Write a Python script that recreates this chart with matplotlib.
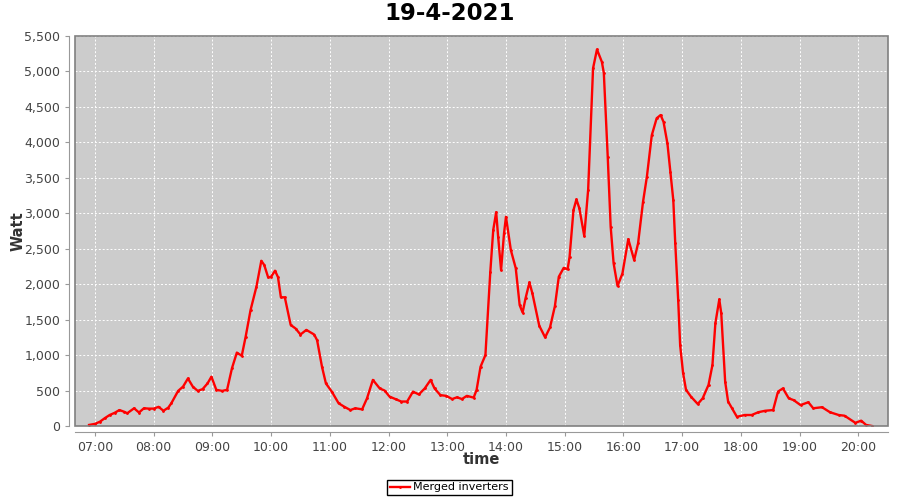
import matplotlib
matplotlib.use('Agg')
import matplotlib.pyplot as plt
import matplotlib.dates as mdates
from matplotlib.patches import Rectangle
import pandas as pd

# readings of the merged inverters (time of day, watt)
times = [
    '06:54', '07:00', '07:05', '07:10', '07:15', '07:20', '07:25', '07:30', '07:33', '07:40',
    '07:45', '07:50', '07:55', '08:00', '08:05', '08:10', '08:15', '08:18', '08:25', '08:30',
    '08:35', '08:40', '08:45', '08:50', '08:55', '08:59', '09:04', '09:10', '09:15', '09:20',
    '09:25', '09:30', '09:34', '09:39', '09:45', '09:50', '09:53', '09:57', '10:00', '10:04',
    '10:07', '10:10', '10:14', '10:20', '10:25', '10:30', '10:36', '10:44', '10:47', '10:52',
    '10:56', '11:02', '11:09', '11:15', '11:21', '11:26', '11:33', '11:38', '11:44', '11:51',
    '11:56', '12:01', '12:08', '12:13', '12:19', '12:25', '12:31', '12:37', '12:43', '12:47',
    '12:53', '12:59', '13:05', '13:10', '13:15', '13:20', '13:27', '13:30', '13:34', '13:39',
    '13:44', '13:47', '13:50', '13:52', '13:55', '13:58', '14:00', '14:05', '14:10', '14:14',
    '14:17', '14:20', '14:24', '14:27', '14:34', '14:40', '14:45', '14:50', '14:54', '14:59',
    '15:03', '15:05', '15:09', '15:12', '15:15', '15:20', '15:24', '15:29', '15:33', '15:38',
    '15:40', '15:44', '15:47', '15:50', '15:54', '15:59', '16:05', '16:11', '16:15', '16:20',
    '16:24', '16:29', '16:34', '16:38', '16:41', '16:45', '16:48', '16:51', '16:53', '16:56',
    '16:58', '17:01', '17:04', '17:09', '17:16', '17:21', '17:27', '17:31', '17:34', '17:38',
    '17:40', '17:44', '17:47', '17:51', '17:56', '18:04', '18:11', '18:18', '18:25', '18:33',
    '18:38', '18:43', '18:49', '18:54', '19:01', '19:09', '19:14', '19:23', '19:31', '19:40',
    '19:46', '19:57', '20:03', '20:08', '20:14',
]
watts = [
    15, 30, 60, 110, 155, 185, 225, 200, 180, 250,
    190, 250, 245, 245, 270, 215, 260, 320, 495, 555,
    670, 555, 495, 520, 600, 695, 510, 495, 510, 815,
    1035, 990, 1260, 1635, 1965, 2330, 2270, 2095, 2105, 2190,
    2100, 1815, 1815, 1425, 1375, 1290, 1355, 1290, 1210, 835,
    600, 485, 320, 270, 225, 250, 235, 390, 650, 530,
    500, 415, 375, 345, 345, 485, 445, 530, 650, 530,
    435, 425, 380, 405, 380, 425, 400, 510, 835, 1000,
    2175, 2765, 3015, 2670, 2200, 2715, 2950, 2480, 2225, 1705,
    1600, 1800, 2025, 1870, 1415, 1250, 1390, 1690, 2105, 2230,
    2210, 2385, 3045, 3195, 3070, 2680, 3335, 5045, 5310, 5135,
    4980, 3795, 2810, 2295, 1975, 2150, 2635, 2340, 2575, 3155,
    3515, 4100, 4340, 4385, 4290, 3985, 3585, 3185, 2575, 1775,
    1140, 745, 510, 415, 310, 390, 580, 860, 1450, 1785,
    1590, 625, 345, 250, 130, 155, 155, 195, 215, 225,
    485, 530, 390, 365, 295, 335, 250, 265, 195, 155,
    145, 45, 75, 15, 0,
]

day = '2021-04-19'
t = pd.to_datetime([f'{day} {hm}' for hm in times])

fig = plt.figure(figsize=(9, 5), dpi=100)
fig.patch.set_facecolor('white')
ax = fig.add_axes([75 / 900, 1 - 426 / 500, 813 / 900, 390 / 500])
ax.set_facecolor('#cccccc')

ax.plot(t, watts, color='#ff0000', linewidth=1.7, marker='.', markersize=2,
        label='Merged inverters')

ax.set_xlim(pd.Timestamp(f'{day} 06:39:36'), pd.Timestamp(f'{day} 20:30:24'))
ax.set_ylim(0, 5500)
ax.set_yticks(range(0, 5501, 500))
ax.yaxis.set_major_formatter(plt.FuncFormatter(lambda v, _: f'{v:,.0f}'))
ax.xaxis.set_major_locator(mdates.HourLocator(byhour=range(7, 21)))
ax.xaxis.set_major_formatter(mdates.DateFormatter('%H:%M'))

# white dashed gridlines
ax.grid(True, color='white', linestyle=(0, (2, 2)), linewidth=0.7)
ax.set_axisbelow(True)

# axis lines drawn a little outside the plot, plot border in grey
for side in ['top', 'right']:
    ax.spines[side].set_visible(False)
for side in ['left', 'bottom']:
    ax.spines[side].set_position(('outward', 4))
    ax.spines[side].set_color('#999999')
ax.add_patch(Rectangle((0, 0), 1, 1, transform=ax.transAxes, fill=False,
                       edgecolor='#808080', linewidth=1.2, zorder=5, clip_on=False))
ax.tick_params(colors='#999999', labelcolor='#444444', labelsize=9, length=3, width=0.8)

ax.set_xlabel('time', fontsize=10.5, fontweight='bold', color='#333333')
ax.set_ylabel('Watt', fontsize=10.5, fontweight='bold', color='#333333')
ax.xaxis.set_label_coords(0.5, -33 / 390)
ax.yaxis.set_label_coords(-57 / 813, 0.5)
ax.xaxis.label.set_va('center')
ax.yaxis.label.set_va('center')
fig.text(0.5, 0.972, '19-4-2021', ha='center', va='center', fontsize=16.5, fontweight='bold')

fig.legend(loc='center', bbox_to_anchor=(449.5 / 900, 1 - 487.5 / 500), fontsize=8,
           frameon=True, fancybox=False, edgecolor='black', framealpha=1,
           handlelength=1.8, handletextpad=0.3, borderpad=0.25, borderaxespad=0)

fig.savefig('out.png', dpi=100)
